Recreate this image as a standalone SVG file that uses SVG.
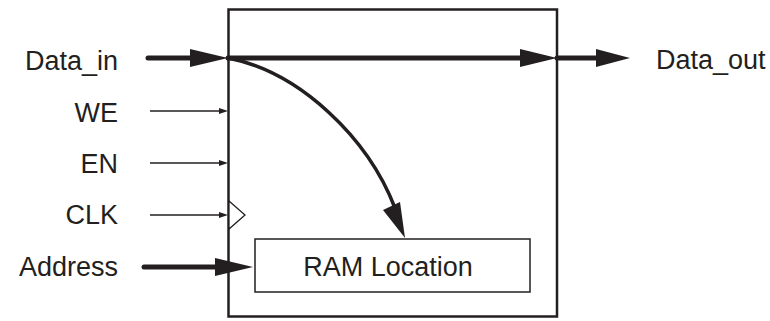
<svg xmlns="http://www.w3.org/2000/svg" width="770" height="321" viewBox="0 0 770 321">
  <style>
    .lbl { font-family: "Liberation Sans", Arial, sans-serif; font-size: 27px; fill: #231f20; }
    .box { fill: #fff; stroke: #231f20; }
    .bus { stroke: #231f20; stroke-width: 5; fill: none; stroke-linecap: round; }
    .sig { stroke: #231f20; stroke-width: 1.5; fill: none; }
    .head { fill: #231f20; }
  </style>
  <rect width="770" height="321" fill="#fff"/>

  <g id="memory-block">
    <rect class="box" x="228.5" y="9.5" width="328.5" height="307" stroke-width="2.5"/>
    <polygon points="229,201 245,215 229,229" fill="#fff" stroke="#231f20" stroke-width="1.3"/>
  </g>

  <g id="ram-location">
    <rect class="box" x="255" y="239" width="275" height="53" stroke-width="1.5"/>
    <text class="lbl" x="388" y="276" text-anchor="middle">RAM Location</text>
  </g>

  <g id="port-labels">
    <text class="lbl" x="118" y="70" text-anchor="end">Data_in</text>
    <text class="lbl" x="118" y="122" text-anchor="end">WE</text>
    <text class="lbl" x="118" y="173" text-anchor="end">EN</text>
    <text class="lbl" x="118" y="224" text-anchor="end">CLK</text>
    <text class="lbl" x="118" y="276" text-anchor="end">Address</text>
    <text class="lbl" x="656" y="69">Data_out</text>
  </g>

  <g id="connectors">
    <!-- Data_in bus -->
    <line class="bus" x1="148" y1="58" x2="195" y2="58"/>
    <polygon class="head" points="190,49 228,58 190,67"/>
    <!-- through path to output -->
    <line class="bus" x1="228" y1="58" x2="525" y2="58" stroke-linecap="butt"/>
    <polygon class="head" points="520,49 557,58 520,67"/>
    <line class="bus" x1="557" y1="58" x2="600" y2="58" stroke-linecap="butt"/>
    <polygon class="head" points="596,49 630,58 596,67"/>
    <!-- write path into RAM -->
    <path d="M228,58 C300,72 368,138 395,208" stroke="#231f20" stroke-width="3.5" fill="none"/>
    <polygon class="head" points="383,210 405,238 400,202"/>
    <!-- control signals -->
    <line class="sig" x1="150" y1="111" x2="222" y2="111"/>
    <polygon class="head" points="219,108 228,111 219,114"/>
    <line class="sig" x1="150" y1="163" x2="222" y2="163"/>
    <polygon class="head" points="219,160 228,163 219,166"/>
    <line class="sig" x1="150" y1="215" x2="222" y2="215"/>
    <polygon class="head" points="219,212 228,215 219,218"/>
    <!-- Address bus -->
    <line class="bus" x1="144" y1="267" x2="220" y2="267"/>
    <polygon class="head" points="215,258 253,267 215,276"/>
  </g>
</svg>
